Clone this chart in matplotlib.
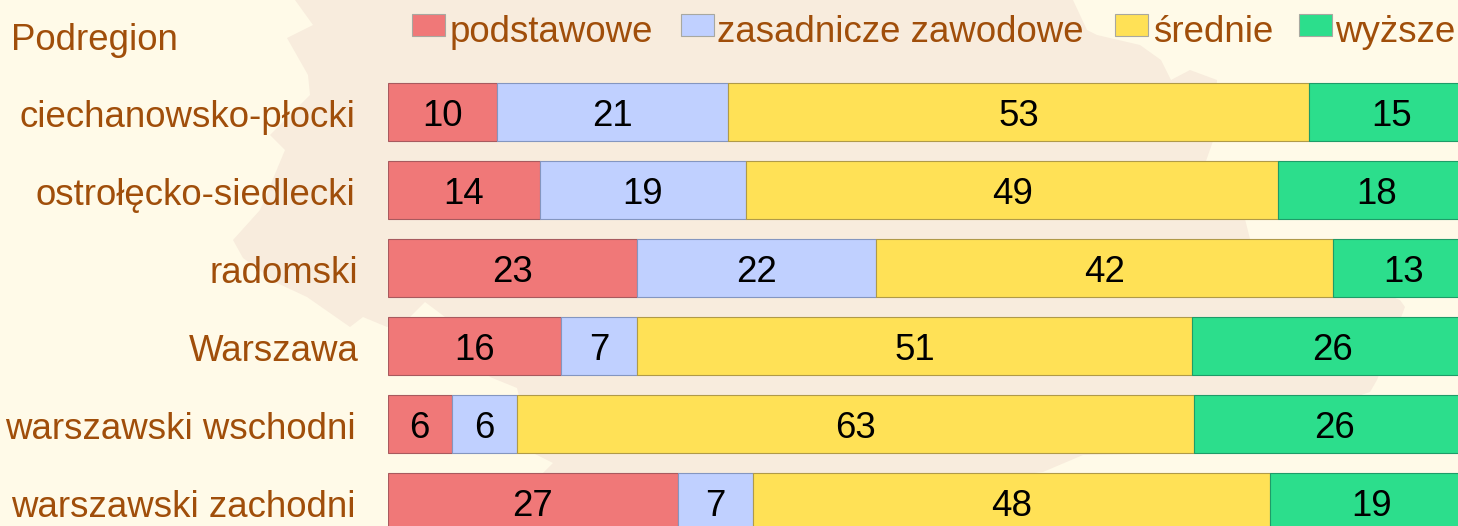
# -*- coding: utf-8 -*-
import matplotlib
matplotlib.use('Agg')
import matplotlib.pyplot as plt
import matplotlib.transforms as mtrans
from matplotlib.patches import Polygon, Rectangle
import numpy as np

W, H = 1458, 526

regions = ['ciechanowsko-płocki', 'ostrołęcko-siedlecki', 'radomski',
           'Warszawa', 'warszawski wschodni', 'warszawski zachodni']
podstawowe = [10, 14, 23, 16, 6, 27]
zasadnicze = [21, 19, 22, 7, 6, 7]
srednie = [53, 49, 42, 51, 63, 48]
wyzsze = [15, 18, 13, 26, 26, 19]

series = [podstawowe, zasadnicze, srednie, wyzsze]
series_names = ['podstawowe', 'zasadnicze zawodowe', 'średnie', 'wyższe']
colors = ['#F07878', '#C0D0FF', '#FFE156', '#2CDE8C']
edges = ['#A85A5E', '#8496C0', '#B09A48', '#1E9C68']
TEXT = '#A04E0A'
BG = '#FFFAE8'
MAP = '#F8ECDD'
FS = 26.4

# background map outline, figure pixels
map_outline = [(295, 0), (313, 25), (287, 38), (308, 75), (310, 95), (270, 135),
               (285, 150), (260, 210), (233, 240), (243, 258), (277, 283),
               (307, 297), (350, 327), (363, 317), (387, 327), (410, 317),
               (425, 302), (445, 317), (490, 377), (517, 388), (533, 453),
               (553, 463), (543, 473), (700, 510), (1043, 472), (1083, 455),
               (1190, 453), (1370, 392), (1377, 380), (1405, 307), (1400, 300),
               (1250, 239), (1245, 219), (1206, 161), (1213, 141), (1217, 80),
               (1190, 70), (1171, 80), (1161, 60), (1140, 45), (1097, 35),
               (1087, 30), (1073, 0)]

plt.rcParams['font.family'] = ['Liberation Sans', 'DejaVu Sans']

fig = plt.figure(figsize=(W / 100, H / 100), dpi=100, facecolor=BG)

# full figure layer in pixels, top-left origin
bg = fig.add_axes([0, 0, 1, 1])
bg.set_xlim(0, W)
bg.set_ylim(H, 0)
bg.axis('off')
bg.add_patch(Polygon(map_outline, closed=True, facecolor=MAP, edgecolor='none'))

# chart axes: 0-100 % spans 388..1474 px, rows are 78 px apart
left, right, top = 387.5, 1474, 73
height = 78 * 6
ax = fig.add_axes([left / W, 1 - (top + height) / H, (right - left) / W, height / H])
ax.patch.set_alpha(0)
for s in ax.spines.values():
    s.set_visible(False)
ax.set_xlim(0, 100)
ax.set_ylim(5.5, -0.5)
ax.xaxis.set_visible(False)

rows = np.arange(len(regions))
values = np.array(series, dtype=float)
shares = values / values.sum(axis=0) * 100
start = np.zeros(len(regions))
for i in range(len(series)):
    ax.barh(rows, shares[i], left=start, height=0.745, color=colors[i],
            edgecolor=edges[i], linewidth=0.8)
    for r in rows:
        ax.text(start[r] + shares[i][r] / 2, r + 0.06, '%d' % series[i][r],
                ha='center', va='center', fontsize=FS, color='black')
    start = start + shares[i]

ax.set_yticks(rows)
ax.set_yticklabels(regions, fontsize=FS, color=TEXT)
ax.tick_params(axis='y', length=0, pad=23)
label_shift = [0, 0, 3, 3, 0, 0]
for lab, dx in zip(ax.get_yticklabels(), label_shift):
    lab.set_transform(lab.get_transform() + mtrans.ScaledTranslation(dx / 100, -1.5 / 100, fig.dpi_scale_trans))

bg.text(11, 50, 'Podregion', fontsize=FS, color=TEXT, ha='left', va='baseline')

# legend
swatch_x = [412, 681, 1115, 1299]
text_x = [450, 717, 1153, 1335]
for i in range(4):
    bg.add_patch(Rectangle((swatch_x[i], 14), 33, 22, facecolor=colors[i],
                           edgecolor='#A8A8A0', linewidth=0.8))
    bg.text(text_x[i], 41.5, series_names[i], fontsize=FS, color=TEXT, ha='left',
            va='baseline')

fig.savefig('out.png', dpi=100, facecolor=BG)
